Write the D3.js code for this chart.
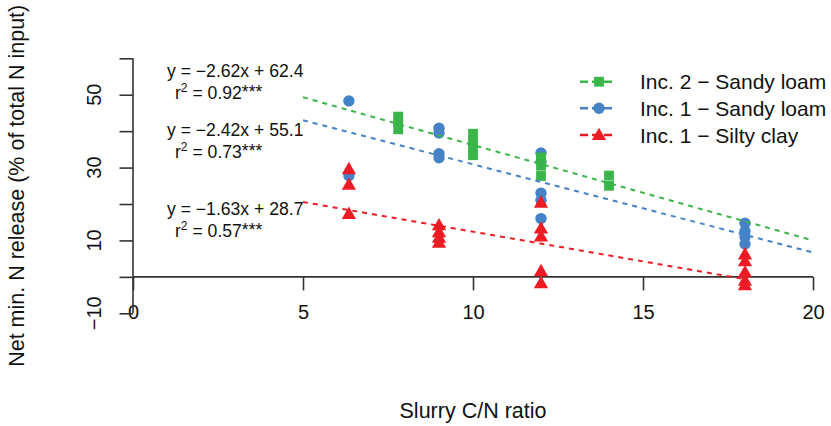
<!DOCTYPE html>
<html>
<head>
<meta charset="utf-8">
<script src="https://cdn.jsdelivr.net/npm/d3@7"></script>
<style>
  html, body { margin: 0; padding: 0; background: #ffffff; }
  svg { display: block; font-family: "Liberation Sans", Arial, Helvetica, sans-serif; }
</style>
</head>
<body>
<svg id="chart" width="831" height="426"></svg>
<script>
// ---------- data ----------
const xTicks = [0, 5, 10, 15, 20];
const yTicks = [-10, 0, 10, 20, 30, 40, 50, 60];
const yTickLabels = [-10, 10, 30, 50];

const seriesNames = ["Inc. 2 \u2212 Sandy loam", "Inc. 1 \u2212 Sandy loam", "Inc. 1 \u2212 Silty clay"];
const seriesColors = ["#3ab54a", "#4582c6", "#ed1c24"];
const seriesSymbols = ["square", "circle", "triangle"];

// Inc. 2 - Sandy loam (green squares)
const inc2SandyX = [7.8, 7.8, 7.8, 10, 10, 10, 10, 12, 12, 12, 14, 14];
const inc2SandyY = [44, 42.5, 40.5, 39.3, 37, 35.3, 33.4, 32.8, 30.5, 27.7, 27.8, 25];

// Inc. 1 - Sandy loam (blue circles)
const inc1SandyX = [6.35, 6.35, 9, 9, 9, 9, 12, 12, 12, 12, 12, 18, 18, 18, 18];
const inc1SandyY = [48.3, 27.8, 40.8, 39.5, 33.8, 32.7, 34, 31.5, 23, 21, 16, 14.7, 12.5, 11, 9];

// Inc. 1 - Silty clay (red triangles)
const inc1SiltyX = [6.35, 6.35, 6.35, 9, 9, 9, 9, 12, 12, 12, 12, 12, 18, 18, 18, 18, 18];
const inc1SiltyY = [29.6, 25.3, 17.3, 14.2, 12.3, 10.8, 9.4, 20.4, 13.3, 11.1, 1.6, -1.7, 6.2, 4.3, 1.3, -1.0, -2.3];

// regression fits (green, blue, red)
const fitSlopes = [-2.62, -2.42, -1.63];
const fitIntercepts = [62.4, 55.1, 28.7];
const fitXStart = [5, 5, 5];
const fitXEnd = [20, 20, 18];
const fitEquations = ["y = \u22122.62x + 62.4", "y = \u22122.42x + 55.1", "y = \u22121.63x + 28.7"];
const fitR2 = ["0.92", "0.73", "0.57"];

// ---------- drawing ----------
const svg = d3.select("#chart");
const x = d3.scaleLinear().domain([0, 20]).range([133, 813]);
const y = d3.scaleLinear().domain([-10, 60]).range([313.3, 58.3]);
const axisColor = "#333333";

// x axis at y = 0
const xAxisG = svg.append("g").attr("transform", `translate(0,${y(0)})`);
xAxisG.call(d3.axisBottom(x).tickValues(xTicks).tickSize(13.5).tickPadding(14).tickFormat(d3.format("d")));
xAxisG.select(".domain").attr("d", `M${x(0)},0H${x(20)}`);
xAxisG.selectAll("line, .domain").attr("stroke", axisColor).attr("stroke-width", 1.6);
xAxisG.selectAll("text").attr("font-size", 20).attr("fill", "#111").attr("font-family", "Liberation Sans, Arial, sans-serif");

// y axis at x = 0
const yAxisG = svg.append("g").attr("transform", `translate(${x(0)},0)`);
yAxisG.call(d3.axisLeft(y).tickValues(yTicks).tickSize(13.5).tickFormat(""));
yAxisG.select(".domain").attr("d", `M0,${y(60)}V${y(-10)}`);
yAxisG.selectAll("line, .domain").attr("stroke", axisColor).attr("stroke-width", 1.6);
svg.append("g").selectAll("text").data(yTickLabels).join("text")
  .attr("transform", d => `translate(101,${y(d)}) rotate(-90)`)
  .attr("text-anchor", "middle")
  .attr("font-size", 20)
  .attr("fill", "#111")
  .text(d => d < 0 ? "\u2212" + Math.abs(d) : d);

// axis titles
svg.append("text")
  .attr("x", (x(0) + x(20)) / 2).attr("y", 418)
  .attr("text-anchor", "middle").attr("font-size", 21.5).attr("fill", "#111")
  .text("Slurry C/N ratio");
svg.append("text")
  .attr("transform", `translate(24,${(y(60) + y(-10)) / 2}) rotate(-90)`)
  .attr("text-anchor", "middle").attr("font-size", 21.5).attr("fill", "#111")
  .text("Net min. N release (% of total N input)");

// points
function symFor(name) {
  if (name === "square") return d3.symbol().type(d3.symbolSquare).size(96);
  if (name === "circle") return d3.symbol().type(d3.symbolCircle).size(102);
  return d3.symbol().type(d3.symbolTriangle).size(88);
}
const pointSets = [
  { xs: inc1SandyX, ys: inc1SandyY, i: 1 },
  { xs: inc2SandyX, ys: inc2SandyY, i: 0 },
  { xs: inc1SiltyX, ys: inc1SiltyY, i: 2 }
];
pointSets.forEach(s => {
  const pts = s.xs.map((v, k) => [v, s.ys[k]]);
  svg.append("g").selectAll("path").data(pts).join("path")
    .attr("transform", d => `translate(${x(d[0])},${y(d[1]) + (s.i === 2 ? 1 : 0)})`)
    .attr("d", symFor(seriesSymbols[s.i])())
    .attr("fill", seriesColors[s.i]);
});

// regression lines
fitSlopes.forEach((m, i) => {
  const x0 = fitXStart[i], x1 = fitXEnd[i];
  svg.append("line")
    .attr("x1", x(x0)).attr("y1", y(m * x0 + fitIntercepts[i]))
    .attr("x2", x(x1)).attr("y2", y(m * x1 + fitIntercepts[i]))
    .attr("stroke", seriesColors[i]).attr("stroke-width", 2)
    .attr("stroke-dasharray", "5,5");
});

// equations
const annY = [76.5, 136, 214.5];
fitEquations.forEach((eq, i) => {
  svg.append("text").attr("x", 167).attr("y", annY[i])
    .attr("font-size", 17.6).attr("fill", "#111").text(eq);
  const t = svg.append("text").attr("x", 175).attr("y", annY[i] + 22)
    .attr("font-size", 17.6).attr("fill", "#111");
  t.append("tspan").text("r");
  t.append("tspan").attr("dy", -7).attr("font-size", 12).text("2");
  t.append("tspan").attr("dy", 7).text(" = " + fitR2[i]);
  t.append("tspan").attr("dy", -1).text("***");
});

// legend
const legY = [81.7, 108.3, 135];
seriesNames.forEach((name, i) => {
  const g = svg.append("g");
  g.append("line").attr("x1", 580).attr("x2", 613).attr("y1", legY[i]).attr("y2", legY[i])
    .attr("stroke", seriesColors[i]).attr("stroke-width", 2.4).attr("stroke-dasharray", "8,4");
  g.append("path").attr("transform", `translate(599,${legY[i] + (i === 2 ? 1 : 0)})`)
    .attr("d", symFor(seriesSymbols[i])()).attr("fill", seriesColors[i]);
  g.append("text").attr("x", 640).attr("y", legY[i] + 7.5)
    .attr("font-size", 21).attr("fill", "#111").text(name);
});
</script>
</body>
</html>
